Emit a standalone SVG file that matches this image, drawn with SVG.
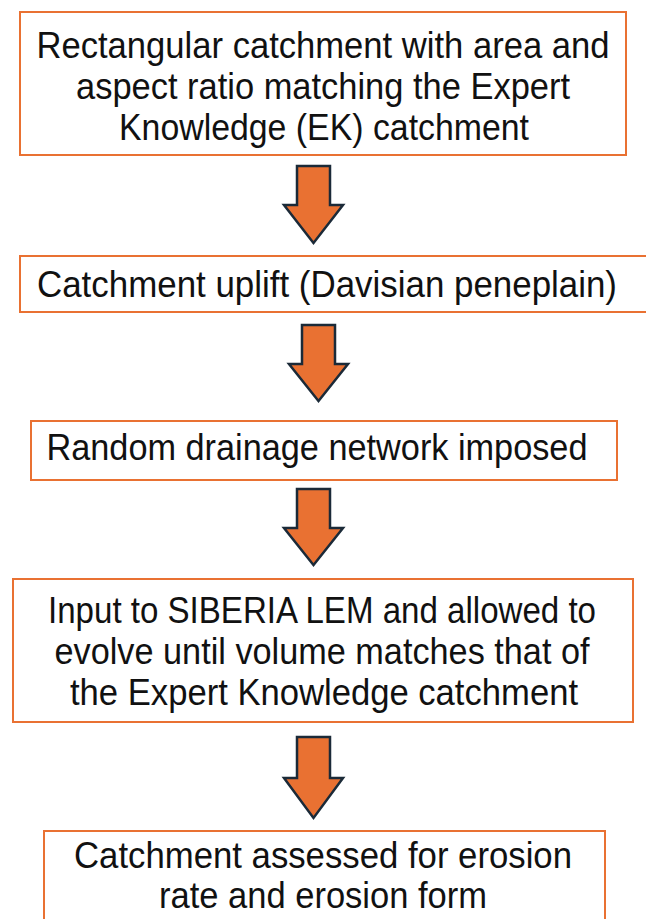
<svg xmlns="http://www.w3.org/2000/svg" width="646" height="919" viewBox="0 0 646 919">
<style>
.box{fill:#ffffff;stroke:#E97132;stroke-width:2}
.t{font-family:"Liberation Sans",Arial,sans-serif;font-size:36px;fill:#111111;text-anchor:middle}
.arr{fill:#E97132;stroke:#1B2A38;stroke-width:2.5;stroke-linejoin:miter}
</style>
<rect width="646" height="919" fill="#ffffff"/>
<g id="connectors">
<path class="arr" d="M297,166 H330 V205 H343 L313.5,243 L284,205 H297 Z"/>
<path class="arr" d="M302,325 H335 V364 H348 L318.5,401 L289,364 H302 Z"/>
<path class="arr" d="M297,489 H330 V528 H343 L313.5,565 L284,528 H297 Z"/>
<path class="arr" d="M297,737 H330 V778 H343 L313.5,818 L284,778 H297 Z"/>
</g>
<g id="n1">
<rect class="box" x="20" y="12" width="606" height="143"/>
<text class="t" x="323" y="58" textLength="573" lengthAdjust="spacingAndGlyphs">Rectangular catchment with area and</text>
<text class="t" x="323" y="99" textLength="494" lengthAdjust="spacingAndGlyphs">aspect ratio matching the Expert</text>
<text class="t" x="324" y="140" textLength="410" lengthAdjust="spacingAndGlyphs">Knowledge (EK) catchment</text>
</g>
<g id="n2">
<rect class="box" x="20" y="256" width="630" height="56"/>
<text class="t" x="327" y="297" textLength="580" lengthAdjust="spacingAndGlyphs">Catchment uplift (Davisian peneplain)</text>
</g>
<g id="n3">
<rect class="box" x="31" y="421" width="586" height="59"/>
<text class="t" x="317" y="460" textLength="541" lengthAdjust="spacingAndGlyphs">Random drainage network imposed</text>
</g>
<g id="n4">
<rect class="box" x="13" y="579" width="620" height="143"/>
<text class="t" x="322" y="623" textLength="548" lengthAdjust="spacingAndGlyphs">Input to SIBERIA LEM and allowed to</text>
<text class="t" x="322" y="664" textLength="535" lengthAdjust="spacingAndGlyphs">evolve until volume matches that of</text>
<text class="t" x="324" y="705" textLength="508" lengthAdjust="spacingAndGlyphs">the Expert Knowledge catchment</text>
</g>
<g id="n5">
<rect class="box" x="44" y="831" width="561" height="100"/>
<text class="t" x="323" y="868" textLength="498" lengthAdjust="spacingAndGlyphs">Catchment assessed for erosion</text>
<text class="t" x="323" y="908" textLength="328" lengthAdjust="spacingAndGlyphs">rate and erosion form</text>
</g>
</svg>
